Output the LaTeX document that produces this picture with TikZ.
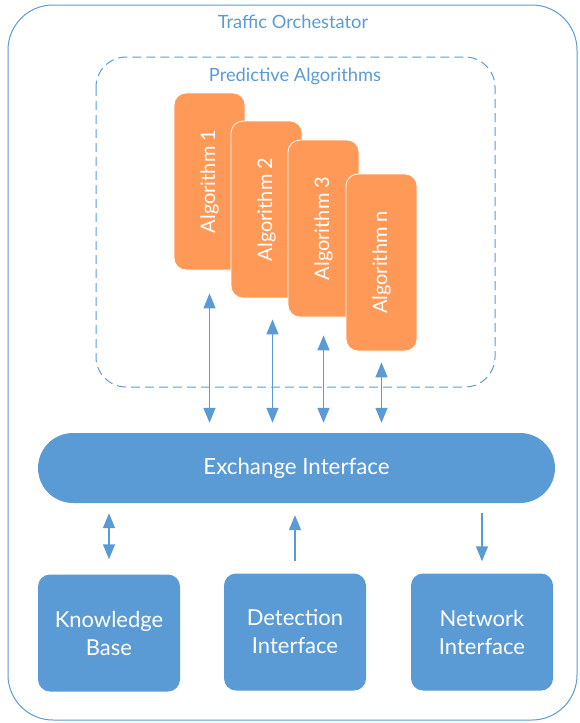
\documentclass[tikz,border=0pt]{standalone}
\usepackage{fontspec}
\setmainfont{Lato}
\usetikzlibrary{arrows.meta}
\newlength{\du}
\setlength{\du}{1pt}
\definecolor{orchblue}{RGB}{91,155,213}
\definecolor{algorange}{RGB}{255,153,87}
\tikzset{
  algbox/.style={fill=algorange, draw=white, line width=0.8\du, rounded corners=12\du,
    minimum width=71\du, minimum height=177\du, inner sep=0pt, text=white,
    font=\fontsize{20}{24}\selectfont},
  modbox/.style={fill=orchblue, rounded corners=12\du, minimum width=142\du,
    minimum height=117\du, inner sep=0pt, text=white, align=center,
    font=\fontsize{22}{28}\selectfont},
  pill/.style={fill=orchblue, rounded corners=35\du, minimum width=517\du,
    minimum height=70\du, inner sep=0pt, text=white, font=\fontsize{22.3}{26}\selectfont},
  heading/.style={text=orchblue, font=\fontsize{18.3}{22}\selectfont},
  biarrow/.style={draw=orchblue, line width=1.4\du,
    {Triangle[width=12pt,length=15pt]}-{Triangle[width=12pt,length=15pt]}},
  uniarrow/.style={draw=orchblue, line width=1.4\du, -{Triangle[width=12pt,length=15pt]}}
}

\begin{document}
\begin{tikzpicture}
\pgftransformxscale{1.000000}
\pgftransformyscale{-1.000000}
\useasboundingbox (0\du,0\du) rectangle (579\du,723\du);
% frames
\draw[orchblue, line width=1\du, rounded corners=45\du] (8\du,5\du) rectangle (577\du,720\du);
\node[heading] (orch) at (293\du,22\du){Traffic Orchestator};
\draw[orchblue, line width=1\du, dash pattern=on 9\du off 5\du, rounded corners=30\du] (96\du,57\du) rectangle (495\du,387\du);
\node[heading] (predalg) at (295\du,76\du){Predictive Algorithms};
% algorithms
\node[algbox] (alg1) at (209.5\du,181.5\du){\rotatebox{90}{Algorithm 1}};
\node[algbox] (alg2) at (266.5\du,209.5\du){\rotatebox{90}{Algorithm 2}};
\node[algbox] (alg3) at (323.5\du,228.5\du){\rotatebox{90}{Algorithm 3}};
\node[algbox] (alg4) at (381.5\du,262.5\du){\rotatebox{90}{Algorithm n}};
% exchange
\node[pill] (ex) at (296.5\du,468\du){Exchange Interface};
% modules
\node[modbox] (kb) at (109\du,633\du){Knowledge\\Base};
\node[modbox] (det) at (295\du,632\du){Detection\\Interface};
\node[modbox] (net) at (482\du,632\du){Network\\Interface};
% connectors
\draw[biarrow, shorten <=23\du, shorten >=10\du] (alg1.south) -- (alg1.south |- ex.north);
\draw[biarrow, shorten <=21\du, shorten >=10\du] ([xshift=6\du]alg2.south) -- ([xshift=6\du]alg2.south |- ex.north);
\draw[biarrow, shorten <=18\du, shorten >=10\du] (alg3.south) -- (alg3.south |- ex.north);
\draw[biarrow, shorten <=11\du, shorten >=10\du] (alg4.south) -- (alg4.south |- ex.north);
\draw[biarrow, shorten <=10\du, shorten >=15\du] (ex.south -| kb.north) -- (kb.north);
\draw[uniarrow, shorten <=12\du, shorten >=12\du] (det.north) -- (det.north |- ex.south);
\draw[uniarrow, shorten <=10\du, shorten >=12\du] (ex.south -| net.north) -- (net.north);
\end{tikzpicture}
\end{document}
